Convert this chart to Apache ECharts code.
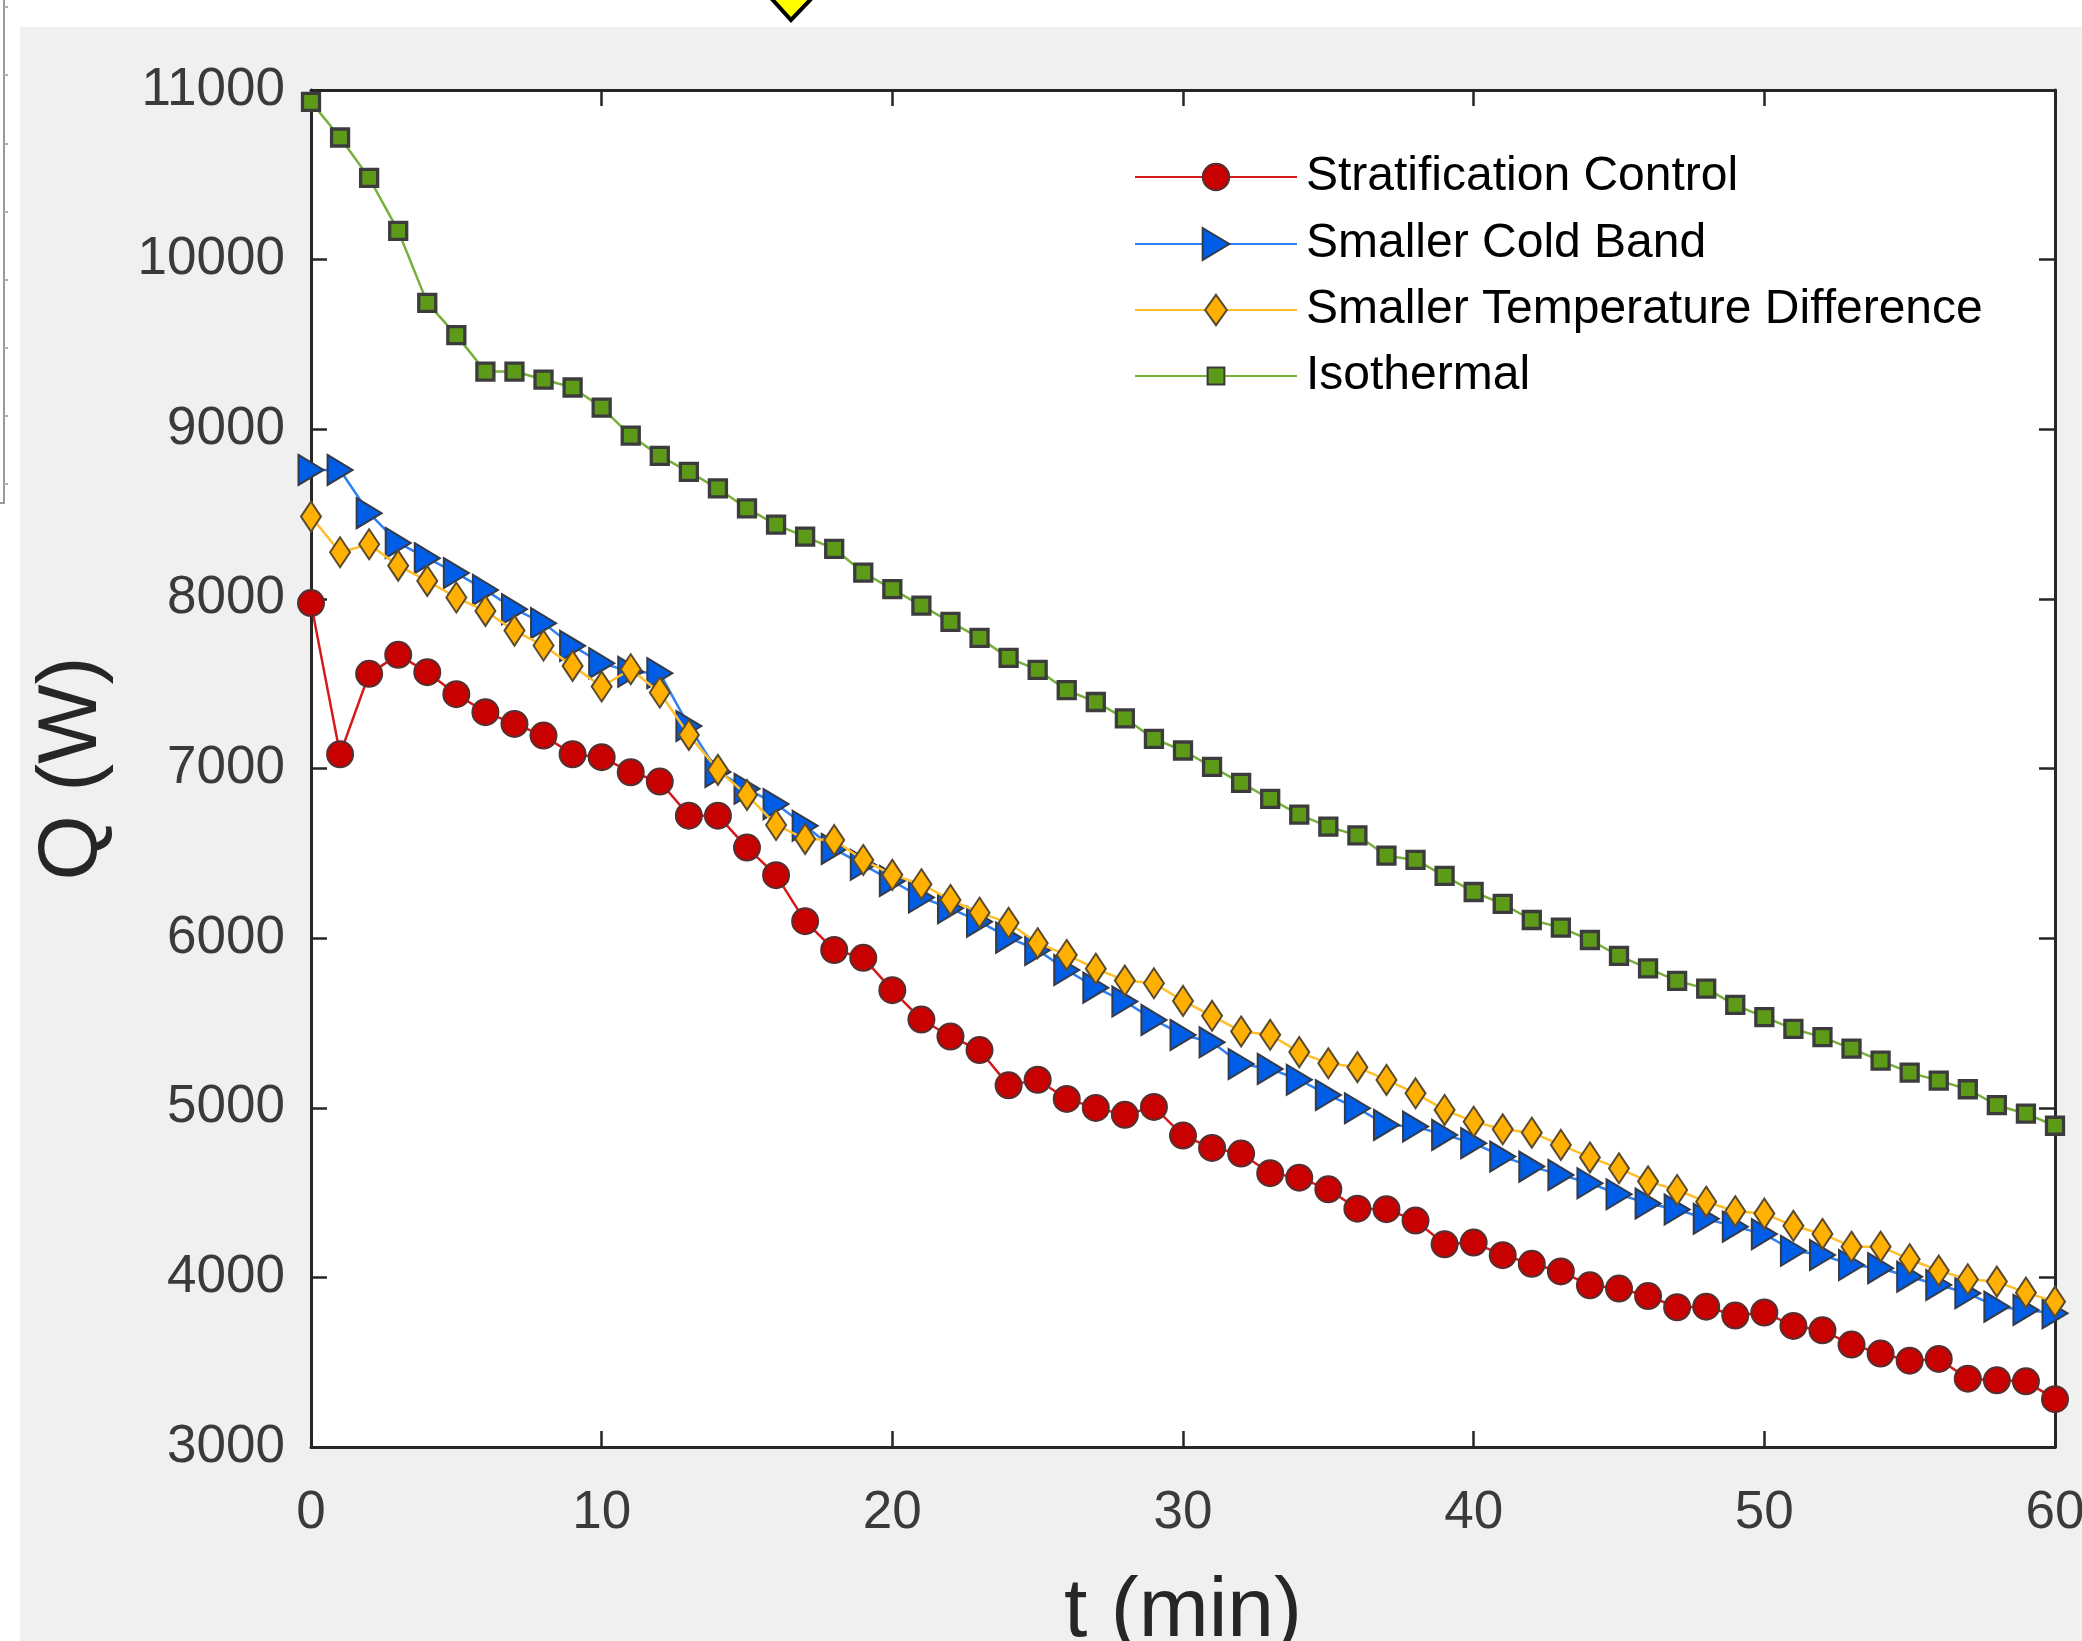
<!DOCTYPE html>
<html>
<head>
<meta charset="utf-8">
<title>Q (W) vs t (min)</title>
<script src="https://cdn.jsdelivr.net/npm/echarts@6/dist/echarts.min.js"></script>
<style>
  html, body { margin: 0; padding: 0; background: #ffffff; }
  #chart-frame { width: 2082px; height: 1641px; }
</style>
</head>
<body>
<div id="chart-frame"></div>
<script>
// time axis (min)
var minutes = [0, 1, 2, 3, 4, 5, 6, 7, 8, 9, 10, 11, 12, 13, 14, 15, 16, 17, 18, 19, 20,
    21, 22, 23, 24, 25, 26, 27, 28, 29, 30, 31, 32, 33, 34, 35, 36, 37, 38, 39, 40,
    41, 42, 43, 44, 45, 46, 47, 48, 49, 50, 51, 52, 53, 54, 55, 56, 57, 58, 59, 60];

// Q (W)
var stratification = [7975, 7084, 7558, 7670, 7568, 7438, 7332, 7263, 7194, 7084, 7067,
    6978, 6923, 6722, 6722, 6534, 6371, 6100, 5930, 5884, 5693,
    5520, 5420, 5340, 5132, 5165, 5052, 4999, 4958, 5005, 4836,
    4763, 4730, 4614, 4588, 4519, 4405, 4402, 4335, 4195, 4205,
    4131, 4080, 4035, 3953, 3934, 3890, 3824, 3827, 3775, 3793,
    3714, 3688, 3604, 3551, 3509, 3519, 3403, 3393, 3387, 3282];

var coldBand = [8760, 8760, 8505, 8330, 8240, 8152, 8053, 7939, 7857, 7723, 7621,
    7570, 7562, 7250, 6980, 6880, 6790, 6662, 6526, 6432, 6337,
    6239, 6176, 6097, 6003, 5930, 5812, 5708, 5626, 5518, 5429,
    5386, 5258, 5229, 5165, 5075, 4997, 4899, 4889, 4840, 4791,
    4712, 4653, 4604, 4555, 4490, 4435, 4400, 4345, 4299, 4255,
    4157, 4132, 4073, 4054, 4004, 3955, 3906, 3827, 3808, 3788];

var tempDiff = [8485, 8275, 8322, 8196, 8106, 8008, 7929, 7813, 7725, 7605, 7483,
    7585, 7448, 7198, 6992, 6844, 6667, 6585, 6578, 6461, 6373,
    6318, 6225, 6150, 6090, 5970, 5901, 5820, 5750, 5734, 5630,
    5542, 5450, 5430, 5328, 5262, 5239, 5164, 5085, 4987, 4918,
    4873, 4853, 4781, 4707, 4643, 4566, 4515, 4446, 4390, 4376,
    4304, 4256, 4181, 4181, 4107, 4040, 3989, 3975, 3910, 3857];

var isothermal = [10930, 10720, 10482, 10170, 9745, 9555, 9340, 9340, 9293, 9246, 9128,
    8963, 8843, 8749, 8651, 8533, 8438, 8367, 8295, 8155, 8057,
    7960, 7864, 7770, 7652, 7581, 7462, 7392, 7296, 7175, 7106,
    7010, 6915, 6821, 6728, 6657, 6606, 6486, 6461, 6367, 6272,
    6202, 6107, 6062, 5989, 5895, 5822, 5748, 5702, 5606, 5534,
    5465, 5416, 5349, 5278, 5207, 5160, 5109, 5015, 4965, 4894];

var seriesNames = ['Stratification Control', 'Smaller Cold Band', 'Smaller Temperature Difference', 'Isothermal'];

var pairUp = function (xs, ys) {
    var out = [];
    for (var i = 0; i < xs.length; i++) {
        out.push([xs[i], ys[i]]);
    }
    return out
}

var FONT = "'Liberation Sans', Arial, Helvetica, sans-serif";
var AXIS_COLOR = '#262626';

// marker paths; the leading moveTo points pad the box so the legend keeps the shape narrow
var TRIANGLE_RIGHT = 'path://M-1,0 M11,12 M0,0 L10,6 L0,12 Z';
var DIAMOND_NARROW = 'path://M-2,0 M12,14 M5,0 L10,7 L5,14 L0,7 Z';

var chart_dom = document.getElementById('chart-frame');
var q_chart = echarts.init(chart_dom, null, { renderer: 'canvas' });

// shared look of the four box sides
var boxAxis = function (extra) {
    var base = {
        type: 'value',
        axisLine: { show: true, onZero: false, lineStyle: { color: AXIS_COLOR, width: 3 } },
        axisTick: { show: true, inside: true, length: 16, lineStyle: { color: AXIS_COLOR, width: 2.5 } },
        splitLine: { show: false },
        axisLabel: { show: false }
    };
    for (var k in extra) base[k] = extra[k];
    return base
}

// one legend block per row, so each key can have its own marker size
var legendRow = function (name, top, itemHeight) {
    return {
        orient: 'vertical',
        left: 1134,
        top: top,
        padding: 0,
        itemWidth: 162,
        itemHeight: itemHeight,
        data: [name],
        textStyle: { fontSize: 48, color: '#000000', fontFamily: FONT, lineHeight: 56, padding: [0, 0, 0, 4] }
    }
}

var plainNumber = function (v) { return String(v); };

var option = {
    animation: false,
    backgroundColor: '#f0f0f0',
    textStyle: { fontFamily: FONT },
    grid: {
        left: 311,
        top: 90,
        width: 1744,
        height: 1357,
        outerBoundsMode: 'none',
        containLabel: false,
        show: true,
        backgroundColor: '#ffffff',
        borderWidth: 0
    },
    graphic: [
        // white margins of the captured window
        { type: 'rect', left: 0, top: 0, shape: { width: 2082, height: 27 }, style: { fill: '#ffffff' }, silent: true },
        { type: 'rect', left: 0, top: 0, shape: { width: 20, height: 1641 }, style: { fill: '#ffffff' }, silent: true },
        { type: 'line', shape: { x1: 4, y1: 0, x2: 4, y2: 503 }, style: { stroke: '#9a9a9a', lineWidth: 2 }, silent: true },
        { type: 'line', shape: { x1: 0, y1: 503, x2: 5, y2: 503 }, style: { stroke: '#9a9a9a', lineWidth: 2 }, silent: true },
        { type: 'polygon', shape: { points: [[771, -2], [812, -2], [791, 20]] }, style: { fill: '#ffff00', stroke: '#000000', lineWidth: 4 }, silent: true }
    ],
    legend: [
        legendRow(seriesNames[0], 149, 33),
        legendRow(seriesNames[1], 216, 40),
        legendRow(seriesNames[2], 282, 38),
        legendRow(seriesNames[3], 348, 21)
    ],
    xAxis: [
        boxAxis({
            position: 'bottom',
            min: 0,
            max: 60,
            interval: 10,
            name: 't (min)',
            nameLocation: 'middle',
            nameGap: 124,
            nameTextStyle: { fontSize: 84, color: AXIS_COLOR, fontFamily: FONT },
            axisLabel: { show: true, fontSize: 53, color: '#3a3a3a', margin: 40, fontFamily: FONT, formatter: plainNumber }
        }),
        boxAxis({ position: 'top', min: 0, max: 60, interval: 10 })
    ],
    yAxis: [
        boxAxis({
            position: 'left',
            min: 3000,
            max: 11000,
            interval: 1000,
            name: 'Q (W)',
            nameLocation: 'middle',
            nameGap: 196,
            nameTextStyle: { fontSize: 84, color: AXIS_COLOR, fontFamily: FONT },
            axisLabel: { show: true, fontSize: 53, color: '#3a3a3a', margin: 26, fontFamily: FONT, formatter: plainNumber }
        }),
        boxAxis({ position: 'right', min: 3000, max: 11000, interval: 1000 })
    ],
    series: [
        {
            name: seriesNames[0],
            type: 'line',
            data: pairUp(minutes, stratification),
            symbol: 'circle',
            symbolSize: 26,
            lineStyle: { color: '#d41a1a', width: 2.5 },
            itemStyle: { color: '#c80000', borderColor: '#553030', borderWidth: 2 },
            z: 3
        },
        {
            name: seriesNames[1],
            type: 'line',
            data: pairUp(minutes, coldBand),
            symbol: TRIANGLE_RIGHT,
            symbolSize: [30, 30],
            lineStyle: { color: '#2f7ff5', width: 2.5 },
            itemStyle: { color: '#005ee6', borderColor: '#353a48', borderWidth: 2 },
            z: 4
        },
        {
            name: seriesNames[2],
            type: 'line',
            data: pairUp(minutes, tempDiff),
            symbol: DIAMOND_NARROW,
            symbolSize: [28, 30],
            lineStyle: { color: '#ffbf2a', width: 2.5 },
            itemStyle: { color: '#ffb000', borderColor: '#5a4a2e', borderWidth: 2 },
            z: 5
        },
        {
            name: seriesNames[3],
            type: 'line',
            data: pairUp(minutes, isothermal),
            symbol: 'rect',
            symbolSize: 17,
            lineStyle: { color: '#78b03c', width: 2.5 },
            itemStyle: { color: '#5c9a18', borderColor: '#3c3c3c', borderWidth: 3.3 },
            z: 6
        }
    ]
};

q_chart.setOption(option);

// little tick stubs on the left window edge
var stubs = [];
var stubY = [7, 75, 144, 212, 280, 348, 416, 484];
for (var s = 0; s < stubY.length; s++) {
    stubs.push({ type: 'line', shape: { x1: 4, y1: stubY[s], x2: 8, y2: stubY[s] }, style: { stroke: '#b0b0b0', lineWidth: 2 }, silent: true });
}
q_chart.setOption({ graphic: option.graphic.concat(stubs) });
</script>
</body>
</html>
